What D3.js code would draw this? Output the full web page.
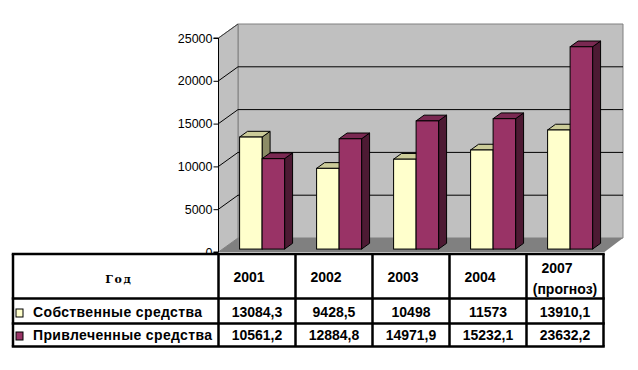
<!DOCTYPE html>
<html>
<head>
<meta charset="utf-8">
<script src="https://cdn.jsdelivr.net/npm/d3@7"></script>
<style>
  body { margin: 0; background: #fff; }
  svg { display: block; }
</style>
</head>
<body>
<svg width="638" height="370"></svg>
<script>
const years = ["2001", "2002", "2003", "2004", "2007"]
const yearNotes = ["", "", "", "", "(прогноз)"]
const seriesNames = ["Собственные средства", "Привлеченные средства"]
const own = [13084.3, 9428.5, 10498, 11573, 13910.1]
const borrowed = [10561.2, 12884.8, 14971.9, 15232.1, 23632.2]
const yTicks = [0, 5000, 10000, 15000, 20000, 25000]
const headerLabel = "Год"

const series = [own, borrowed]
const colors = [
    { front: "#ffffcc", top: "#cccc99", side: "#8c8c66", key: "#ffffcc" },
    { front: "#993366", top: "#7a2952", side: "#4d1a33", key: "#993366" }
]

// 3d look: how far the back wall sits from the front plane
const depthX = 19.5
const depthY = 14
const barZ0 = 0.21
const barZ1 = 0.62
const labelWidths = [169, 179]

const svg = d3.select("svg")

const xScale = d3.scaleBand()
    .domain(years)
    .range([218.5, 603.5])

const sScale = d3.scaleBand()
    .domain([0, 1])
    .range([17, 62])

const yScale = d3.scaleLinear()
    .domain([0, 25000])
    .range([252, 38])

const x0 = xScale.range()[0]
const x1 = xScale.range()[1]
const yBottom = yScale(0)
const yTop = yScale(25000)
const pts = arr => arr.map(p => p.join(",")).join(" ")

// walls and floor
svg.append("polygon")
    .attr("points", pts([[x0 + depthX, yBottom - depthY], [x1 + depthX, yBottom - depthY], [x1 + depthX, yTop - depthY], [x0 + depthX, yTop - depthY]]))
    .style("fill", "#c0c0c0")
    .style("stroke", "#808080")

svg.append("polygon")
    .attr("points", pts([[x0, yBottom], [x0 + depthX, yBottom - depthY], [x0 + depthX, yTop - depthY], [x0, yTop]]))
    .style("fill", "#c0c0c0")
    .style("stroke", "#808080")

svg.append("line")
    .attr("x1", x0).attr("y1", yTop)
    .attr("x2", x0 + depthX).attr("y2", yTop - depthY)
    .style("stroke", "#404040")

svg.append("polygon")
    .attr("points", pts([[x0, yBottom], [x1 + 1, yBottom], [x1 + depthX, yBottom - depthY], [x0 + depthX, yBottom - depthY]]))
    .style("fill", "#808080")

// gridlines
const grid = svg.append("g")
yTicks.filter(t => t > 0 && t < 25000).forEach(t => {
    grid.append("line")
        .attr("x1", x0).attr("y1", yScale(t))
        .attr("x2", x0 + depthX).attr("y2", yScale(t) - depthY)
        .style("stroke", "#000")
    grid.append("line")
        .attr("x1", x0 + depthX).attr("y1", yScale(t) - depthY)
        .attr("x2", x1 + depthX).attr("y2", yScale(t) - depthY)
        .style("stroke", "#000")
})

// bars
const bars = svg.append("g")
const bdx = (barZ1 - barZ0) * depthX
const bdy = (barZ1 - barZ0) * depthY
years.forEach((yr, i) => {
    series.forEach((vals, s) => {
        const w = sScale.bandwidth()
        const fx = xScale(yr) + sScale(s) + barZ0 * depthX
        const ty = yScale(vals[i]) - barZ0 * depthY
        const by = yScale(0) - barZ0 * depthY
        const c = colors[s]
        bars.append("polygon")
            .attr("points", pts([[fx + w, ty], [fx + w + bdx, ty - bdy], [fx + w + bdx, by - bdy], [fx + w, by]]))
            .style("fill", c.side).style("stroke", "#000")
        bars.append("polygon")
            .attr("points", pts([[fx, ty], [fx + w, ty], [fx + w + bdx, ty - bdy], [fx + bdx, ty - bdy]]))
            .style("fill", c.top).style("stroke", "#000")
        bars.append("rect")
            .attr("x", fx).attr("y", ty)
            .attr("width", w).attr("height", by - ty)
            .style("fill", c.front).style("stroke", "#000")
    })
})

// y axis
const yAxis = d3.axisLeft(yScale)
    .tickValues(yTicks)
    .tickSize(5)
    .tickPadding(1)
    .tickFormat(d => d)

svg.append("g")
    .attr("transform", `translate(${x0}, 0)`)
    .call(yAxis)
    .call(g => g.select(".domain").attr("d", `M-5,${yTop}H0V${yBottom}H-5`).style("stroke", "#000"))
    .call(g => g.selectAll("line").style("stroke", "#000"))
    .call(g => g.selectAll("text")
        .style("font-family", "'Liberation Sans', Arial, sans-serif")
        .style("font-size", "12.5px")
        .style("fill", "#000"))

// data table
const table = svg.append("g")
const rowY = [254, 298.5, 323.5, 346.5]
const tLeft = 13

table.append("rect")
    .attr("x", tLeft).attr("y", 255)
    .attr("width", x1 - tLeft).attr("height", 91)
    .style("fill", "#fff")

const font = "'Liberation Sans', Arial, sans-serif"

table.append("text")
    .attr("x", 118).attr("y", 282.5)
    .attr("text-anchor", "middle")
    .attr("textLength", 25.5)
    .attr("lengthAdjust", "spacing")
    .style("font-family", "'DejaVu Serif', 'Liberation Serif', serif")
    .style("font-weight", "bold")
    .style("font-size", "11px")
    .text(headerLabel)

years.forEach((yr, i) => {
    const cx = xScale(yr)
    const twoLines = yearNotes[i] !== ""
    table.append("text")
        .attr("x", cx + 30.5).attr("y", twoLines ? 273 : 281.5)
        .attr("text-anchor", "middle")
        .style("font-family", font).style("font-weight", "bold")
        .style("font-size", "14px")
        .text(yr)
    if (twoLines) {
        table.append("text")
            .attr("x", cx + xScale.bandwidth() / 2).attr("y", 294)
            .attr("text-anchor", "middle")
            .style("font-family", font).style("font-weight", "bold")
            .style("font-size", "14px")
            .text(yearNotes[i])
    }
})

const valueBase = [316.5, 339.5]
series.forEach((vals, s) => {
    table.append("rect")
        .attr("x", 16).attr("y", valueBase[s] - 7.5)
        .attr("width", 7).attr("height", 8)
        .style("fill", colors[s].key)
        .style("stroke", "#000")
    table.append("text")
        .attr("x", 33).attr("y", valueBase[s])
        .attr("textLength", labelWidths[s])
        .attr("lengthAdjust", "spacing")
        .style("font-family", font).style("font-weight", "bold")
        .style("font-size", "14px")
        .text(seriesNames[s])
    vals.forEach((v, i) => {
        table.append("text")
            .attr("x", xScale(years[i]) + xScale.bandwidth() / 2).attr("y", valueBase[s])
            .attr("text-anchor", "middle")
            .style("font-family", font).style("font-weight", "bold")
            .style("font-size", "14px")
            .text(String(v).replace(".", ","))
    })
})

rowY.forEach(y => {
    table.append("line")
        .attr("x1", tLeft - 1.25).attr("x2", x1 + 1.25)
        .attr("y1", y).attr("y2", y)
        .style("stroke", "#000").style("stroke-width", 2.5)
})

const colX = [tLeft, ...years.map(yr => xScale(yr)), x1]
colX.forEach(x => {
    table.append("line")
        .attr("x1", x).attr("x2", x)
        .attr("y1", rowY[0]).attr("y2", rowY[3])
        .style("stroke", "#000").style("stroke-width", 2.5)
})
</script>
</body>
</html>
